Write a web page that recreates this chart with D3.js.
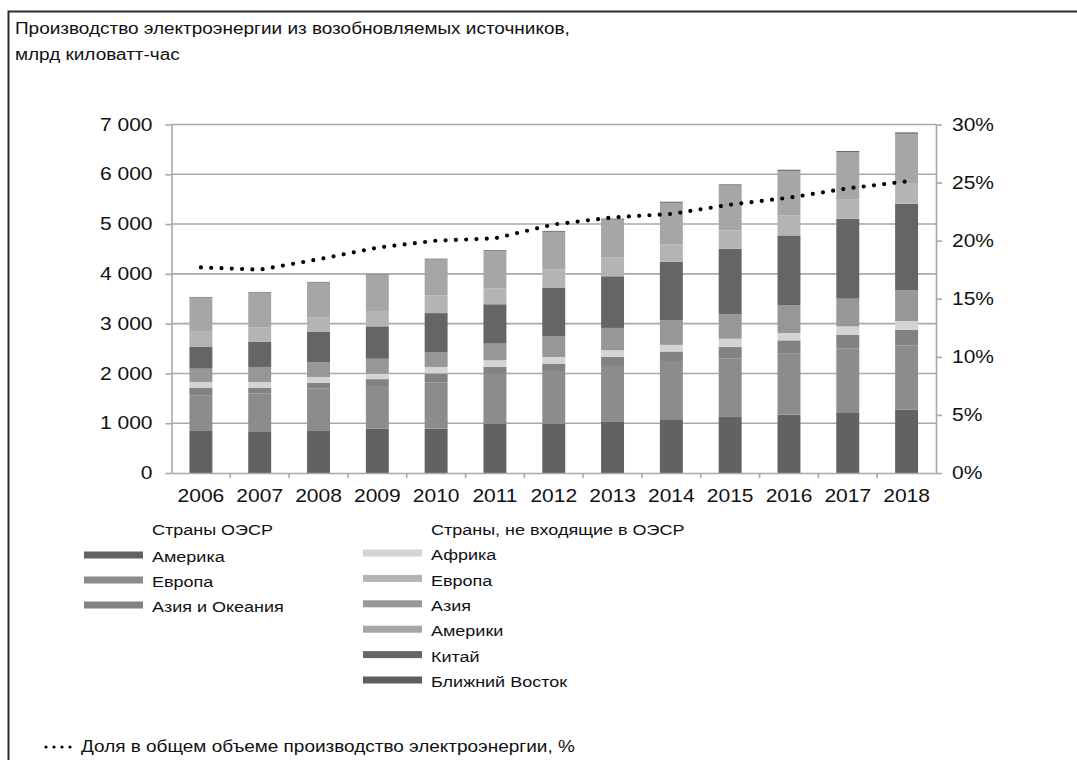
<!DOCTYPE html>
<html>
<head>
<meta charset="utf-8">
<script src="https://cdn.jsdelivr.net/npm/d3@7"></script>
<style>
  body { margin: 0; background: #fff; }
  svg { display: block; }
  text { font-family: "Liberation Sans", Arial, sans-serif; fill: #111; }
</style>
</head>
<body>
<svg id="chart" width="1077" height="760"></svg>
<script>
// Renewable electricity generation, bn kWh, by region
const years = [2006, 2007, 2008, 2009, 2010, 2011, 2012, 2013, 2014, 2015, 2016, 2017, 2018];

// OECD
const oecdAmerica     = [857, 824, 857, 890, 891, 991, 991, 1025, 1080, 1138, 1171, 1205, 1272];
const oecdEurope      = [704, 770, 838, 840, 924, 1005, 1059, 1125, 1170, 1158, 1225, 1292, 1292];
const oecdAsiaOceania = [154, 121, 113, 155, 185, 134, 147, 181, 190, 234, 268, 281, 314];
// Non-OECD
const africa          = [114, 113, 121, 110, 130, 134, 134, 134, 134, 167, 147, 167, 174];
const asiaNon         = [267, 302, 301, 300, 300, 335, 415, 449, 496, 489, 556, 556, 616];
const china           = [436, 502, 603, 650, 782, 790, 978, 1037, 1175, 1319, 1405, 1606, 1740];
const europeNon       = [321, 288, 288, 308, 356, 315, 362, 375, 350, 368, 402, 382, 415];
const americasNon     = [671, 705, 704, 718, 722, 754, 760, 766, 833, 903, 895, 953, 992];
const middleEast      = [12, 12, 13, 14, 15, 16, 17, 18, 20, 21, 22, 24, 26];

// Share of renewables in total generation, %
const renewShare = [17.7, 17.5, 18.4, 19.4, 20.0, 20.2, 21.4, 22.0, 22.3, 23.1, 23.7, 24.5, 25.1];

const leftTicks  = [0, 1000, 2000, 3000, 4000, 5000, 6000, 7000];
const rightTicks = [0, 5, 10, 15, 20, 25, 30];

const titleLines = ["Производство электроэнергии из возобновляемых источников,", "млрд киловатт-час"];
const groupOecd = "Страны ОЭСР";
const groupNon  = "Страны, не входящие в ОЭСР";
const shareLabel = "Доля в общем объеме производство электроэнергии, %";

const series = [
  { key: "oecdAmerica",     name: "Америка",          values: oecdAmerica,     color: "#626262" },
  { key: "oecdEurope",      name: "Европа",           values: oecdEurope,      color: "#8c8c8c" },
  { key: "oecdAsiaOceania", name: "Азия и Океания",   values: oecdAsiaOceania, color: "#828282" },
  { key: "africa",          name: "Африка",           values: africa,          color: "#d4d4d4" },
  { key: "asiaNon",         name: "Азия",             values: asiaNon,         color: "#979797" },
  { key: "china",           name: "Китай",            values: china,           color: "#656565" },
  { key: "europeNon",       name: "Европа",           values: europeNon,       color: "#b4b4b4" },
  { key: "americasNon",     name: "Америки",          values: americasNon,     color: "#a6a6a6" },
  { key: "middleEast",      name: "Ближний Восток",   values: middleEast,      color: "#5e5e5e" }
];
const byKey = Object.fromEntries(series.map(s => [s.key, s]));
const legendOecd = ["oecdAmerica", "oecdEurope", "oecdAsiaOceania"];
const legendNon  = ["africa", "europeNon", "asiaNon", "americasNon", "china", "middleEast"];

const SX = 1.2; // horizontal widening of the lettering
const svg = d3.select("#chart");

function widen(sel) {
  sel.each(function () {
    const t = d3.select(this);
    const x = +t.attr("x") || 0;
    const y = +t.attr("y") || 0;
    t.attr("x", 0).attr("y", 0).attr("transform", `translate(${x},${y}) scale(${SX},1)`);
  });
}

// frame
svg.append("path")
  .attr("d", "M8.5,760 V11.5 H1077")
  .attr("fill", "none").attr("stroke", "#2a2a2a").attr("stroke-width", 2);

// title
svg.append("g").selectAll("text").data(titleLines).join("text")
  .attr("x", 15).attr("y", (d, i) => 34 + i * 26)
  .attr("font-size", 15.8)
  .text(d => d)
  .call(widen);

// scales
const plotLeft = 171.5, plotRight = 936, plotTop = 124.5, plotBottom = 473;
const x = d3.scaleBand().domain(years).range([plotLeft, plotRight]).paddingInner(0.61).paddingOuter(0.305);
const y = d3.scaleLinear().domain([0, 7000]).range([plotBottom, plotTop]);
const yp = d3.scaleLinear().domain([0, 30]).range([plotBottom, plotTop]);

const axisColor = "#a9a9a9";

// gridlines
svg.append("g").selectAll("line").data(leftTicks.filter(d => d > 0)).join("line")
  .attr("x1", plotLeft).attr("x2", plotRight)
  .attr("y1", d => y(d)).attr("y2", d => y(d))
  .attr("stroke", axisColor).attr("stroke-width", 1.6);

// stacked bars
const rows = years.map((yr, i) => {
  const r = { year: yr };
  series.forEach(s => { r[s.key] = s.values[i]; });
  return r;
});
const stacked = d3.stack().keys(series.map(s => s.key))(rows);

svg.append("g").selectAll("g").data(stacked).join("g")
  .attr("fill", d => byKey[d.key].color)
  .selectAll("rect").data(d => d).join("rect")
  .attr("x", d => x(d.data.year))
  .attr("width", x.bandwidth())
  .attr("y", d => y(d[1]))
  .attr("height", d => y(d[0]) - y(d[1]));

// axes
const fmt = d3.formatLocale({ decimal: ",", thousands: " ", grouping: [3], currency: ["", ""] }).format(",");

function styleAxis(g) {
  g.selectAll("path.domain").attr("stroke", axisColor).attr("stroke-width", 1.6);
  g.selectAll(".tick line").attr("stroke", axisColor).attr("stroke-width", 1.6);
  g.selectAll("text").attr("fill", "#111").attr("font-family", "\"Liberation Sans\", Arial, sans-serif");
}

const gLeft = svg.append("g").attr("transform", `translate(${plotLeft},0)`)
  .call(d3.axisLeft(y).tickValues(leftTicks).tickFormat(fmt).tickSize(6).tickSizeOuter(0).tickPadding(13))
  .attr("font-size", 17.5);
styleAxis(gLeft);
gLeft.selectAll("text").call(widen);

const gRight = svg.append("g").attr("transform", `translate(${plotRight},0)`)
  .call(d3.axisRight(yp).tickValues(rightTicks).tickFormat(d => d + "%").tickSize(6).tickSizeOuter(0).tickPadding(10))
  .attr("font-size", 17.5);
styleAxis(gRight);
gRight.selectAll("text").call(widen);

const gBottom = svg.append("g").attr("transform", `translate(0,${plotBottom})`)
  .call(d3.axisBottom(x).tickSize(0).tickSizeOuter(0).tickPadding(17))
  .attr("font-size", 17.5);
styleAxis(gBottom);
gBottom.selectAll("text").call(widen);

// category boundary ticks below the axis
const step = x.step();
const bounds = years.slice(1).map(yr => x(yr) - (step - x.bandwidth()) / 2);
svg.append("g").selectAll("line").data(bounds).join("line")
  .attr("x1", d => d).attr("x2", d => d)
  .attr("y1", plotBottom).attr("y2", plotBottom + 5)
  .attr("stroke", axisColor).attr("stroke-width", 1.6);

// share line (dotted)
const shareLine = d3.line()
  .x((d, i) => x(years[i]) + x.bandwidth() / 2)
  .y(d => yp(d));
svg.append("path")
  .datum(renewShare)
  .attr("d", shareLine)
  .attr("fill", "none")
  .attr("stroke", "#000")
  .attr("stroke-width", 4.2)
  .attr("stroke-linecap", "round")
  .attr("stroke-dasharray", "0 10.3");

// legend
const legend = svg.append("g").attr("font-size", 15);

function legendColumn(keys, header, swX, txtX, y0, dy) {
  legend.append("text").attr("x", txtX).attr("y", 530).attr("dy", "0.35em").text(header).call(widen);
  keys.forEach((k, i) => {
    const cy = y0 + i * dy;
    legend.append("rect")
      .attr("x", swX).attr("y", cy - 5.5).attr("width", 59).attr("height", 7)
      .attr("fill", byKey[k].color);
    legend.append("text").attr("x", txtX).attr("y", cy).attr("dy", "0.35em").text(byKey[k].name).call(widen);
  });
}
legendColumn(legendOecd, groupOecd, 84, 152, 557, 25);
legendColumn(legendNon, groupNon, 363, 431, 555, 25.4);

// share legend entry
legend.append("line")
  .attr("x1", 46).attr("x2", 78).attr("y1", 747).attr("y2", 747)
  .attr("stroke", "#000").attr("stroke-width", 3.2)
  .attr("stroke-linecap", "round").attr("stroke-dasharray", "0 8");
legend.append("text").attr("x", 81).attr("y", 746).attr("dy", "0.35em")
  .attr("font-size", 15.8).text(shareLabel).call(widen);
</script>
</body>
</html>
